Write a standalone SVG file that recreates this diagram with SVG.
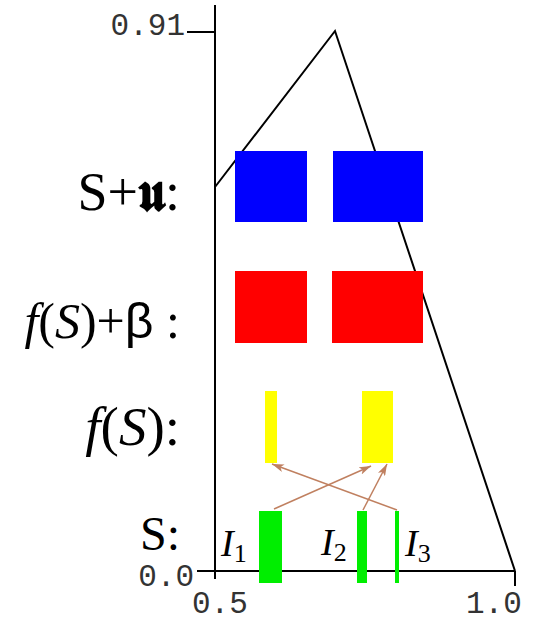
<svg xmlns="http://www.w3.org/2000/svg" width="540" height="624" viewBox="0 0 540 624">
<style>
.ax{stroke:#000;stroke-width:2;fill:none}
.num{font-family:"Liberation Mono",monospace;font-size:31px;fill:#333}
.lbl{font-family:"Liberation Serif","DejaVu Serif",serif;fill:#000}
.it{font-style:italic}
.arr{stroke:#c08060;stroke-width:1.5;fill:none;marker-end:url(#ah)}
</style>
<defs>
<marker id="ah" viewBox="0 0 12 8" refX="12" refY="4" markerWidth="12" markerHeight="8" markerUnits="userSpaceOnUse" orient="auto">
<path d="M0,0 L12,4 L0,8 L3,4 Z" fill="#c08060"/>
</marker>
</defs>
<rect width="540" height="624" fill="#fff"/>
<g id="axes">
<line class="ax" x1="215" y1="5" x2="215" y2="579"/>
<line class="ax" x1="197" y1="571" x2="515" y2="571"/>
<line class="ax" x1="515" y1="571" x2="515" y2="586"/>
<line class="ax" x1="187" y1="32" x2="215" y2="32"/>
<text class="num" x="185" y="35" text-anchor="end">0.91</text>
<text class="num" x="194" y="586" text-anchor="end" font-size="29">0.0</text>
<text class="num" x="192" y="613">0.5</text>
<text class="num" x="466" y="613">1.0</text>
</g>
<g id="triangle">
<polyline class="ax" points="215,187 335,31 515,571"/>
</g>
<g id="row-su">
<text class="lbl" x="180" y="210" font-size="54" text-anchor="end">S+<tspan font-weight="bold">𝖚</tspan>:</text>
<rect x="235" y="151" width="72" height="71" fill="#0000ff"/>
<rect x="333" y="151" width="90" height="71" fill="#0000ff"/>
</g>
<g id="row-fsb">
<text class="lbl" x="180" y="338" font-size="50" text-anchor="end"><tspan class="it">f</tspan>(<tspan class="it">S</tspan>)+<tspan font-family="Liberation Sans,sans-serif">β</tspan> :</text>
<rect x="235" y="271" width="72" height="72" fill="#ff0000"/>
<rect x="332" y="271" width="91" height="72" fill="#ff0000"/>
</g>
<g id="row-fs">
<text class="lbl" x="180" y="445" font-size="55" text-anchor="end"><tspan class="it">f</tspan>(<tspan class="it">S</tspan>):</text>
<rect x="265" y="391" width="12" height="72" fill="#ffff00"/>
<rect x="362" y="391" width="31" height="72" fill="#ffff00"/>
</g>
<g id="row-s">
<text class="lbl" x="180" y="550" font-size="48" text-anchor="end">S:</text>
<rect x="259" y="511" width="23" height="72" fill="#00ee00"/>
<rect x="357" y="511" width="10" height="72" fill="#00ee00"/>
<rect x="395" y="511" width="4" height="72" fill="#00ee00"/>
<text class="lbl" x="221" y="556" font-size="38"><tspan class="it">I</tspan><tspan font-size="26" dy="6">1</tspan></text>
<text class="lbl" x="321" y="555" font-size="38"><tspan class="it">I</tspan><tspan font-size="26" dy="6">2</tspan></text>
<text class="lbl" x="405" y="556" font-size="38"><tspan class="it">I</tspan><tspan font-size="26" dy="6">3</tspan></text>
</g>
<g id="connectors">
<line class="arr" x1="274" y1="509" x2="371" y2="466"/>
<line class="arr" x1="363" y1="510" x2="387" y2="464"/>
<line class="arr" x1="397" y1="510" x2="272" y2="464"/>
</g>
</svg>
